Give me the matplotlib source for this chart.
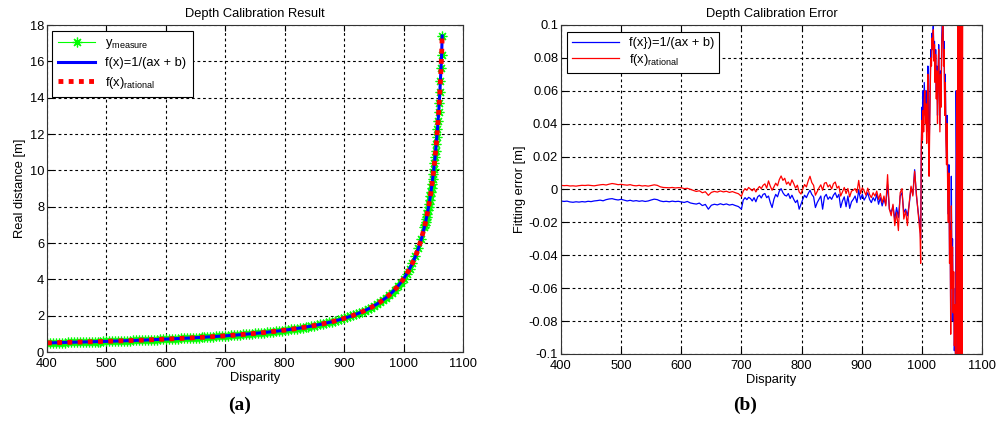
import numpy as np
import matplotlib
matplotlib.use("Agg")
import matplotlib.pyplot as plt

plt.rcParams['font.family'] = ['Liberation Sans', 'DejaVu Sans']
plt.rcParams['mathtext.fontset'] = 'custom'
plt.rcParams['mathtext.rm'] = 'Liberation Sans'
plt.rcParams['axes.unicode_minus'] = False

# ---------------- (a) Depth Calibration Result ----------------
disp_a = list(range(400, 1036, 5)) + list(range(1036, 1066, 1))
y_measure = [
    0.500, 0.504, 0.507, 0.511, 0.515, 0.519, 0.523, 0.527, 0.531, 0.535,
    0.539, 0.544, 0.548, 0.552, 0.557, 0.562, 0.566, 0.571, 0.576, 0.581,
    0.586, 0.591, 0.596, 0.601, 0.606, 0.612, 0.617, 0.623, 0.629, 0.634,
    0.640, 0.646, 0.652, 0.659, 0.665, 0.672, 0.678, 0.685, 0.692, 0.699,
    0.706, 0.714, 0.721, 0.729, 0.737, 0.745, 0.753, 0.761, 0.770, 0.779,
    0.787, 0.797, 0.806, 0.816, 0.825, 0.835, 0.846, 0.856, 0.867, 0.878,
    0.890, 0.901, 0.913, 0.926, 0.938, 0.952, 0.965, 0.979, 0.993, 1.008,
    1.023, 1.038, 1.054, 1.070, 1.087, 1.105, 1.123, 1.142, 1.161, 1.181,
    1.202, 1.223, 1.246, 1.269, 1.293, 1.318, 1.343, 1.370, 1.398, 1.427,
    1.458, 1.489, 1.523, 1.557, 1.593, 1.631, 1.671, 1.713, 1.757, 1.803,
    1.852, 1.903, 1.958, 2.015, 2.076, 2.141, 2.210, 2.284, 2.363, 2.447,
    2.538, 2.636, 2.741, 2.856, 2.980, 3.115, 3.264, 3.427, 3.608, 3.808,
    4.032, 4.285, 4.570, 4.897, 5.274, 5.714, 6.234, 6.859,
    7.000, 7.145, 7.297, 7.456, 7.622, 7.796, 7.977, 8.167, 8.367, 8.576,
    8.797, 9.029, 9.273, 9.531, 9.804, 10.093, 10.399, 10.725, 11.072, 11.442,
    11.837, 12.261, 12.716, 13.207, 13.736, 14.310, 14.934, 15.615, 16.361, 17.400,
]
# the two fitted curves coincide with the measurements at this scale
y_fit_inverse = list(y_measure)
y_fit_rational = list(y_measure)

# ---------------- (b) Depth Calibration Error (mm) ----------------
disp_b = list(range(400, 701, 5)) + list(range(703, 998, 3)) + list(range(998, 1069, 1))
err_inverse_mm = [
    # 400 .. 700 step 5
    -7.0, -7.3, -7.1, -7.6, -7.8, -7.5, -7.7, -7.4, -7.6, -7.2,
    -7.4, -7.0, -6.8, -6.5, -6.9, -6.2, -5.8, -5.6, -6.1, -6.4,
    -6.0, -6.5, -7.0, -6.6, -7.1, -6.8, -7.2, -6.9, -7.3, -7.0,
    -6.4, -5.9, -6.2, -7.0, -7.4, -7.2, -7.5, -7.1, -7.4, -7.2,
    -7.6, -7.9, -7.3, -8.2, -8.6, -8.9, -8.3, -9.8, -9.1, -12.0,
    -9.6, -9.0, -9.4, -8.7, -9.3, -8.8, -9.5, -9.1, -9.8, -10.4,
    -12.0,
    # 703 .. 997 step 3
    -6.5, -5.0, -6.2, -4.8, -5.5, -7.0, -5.0, -7.5, -4.5, -3.5,
    -5.2, -3.0, -2.5, -5.0, -4.0, -8.0, -11.0, -6.0, -3.0, -4.5,
    -1.0, 0.5, -2.0, -3.5, -4.0, -2.5, -5.5, -3.5, -6.0, -8.0,
    -6.5, -12.0, -9.0, -6.0, -3.5, -5.0, -2.5, -0.5, -3.0, -4.5,
    -11.0, -8.0, -6.0, -4.0, -12.0, -4.5, -3.0, -6.0, -4.5, -6.0,
    -3.5, -2.0, -5.0, -3.0, -11.0, -7.0, -4.5, -10.5, -4.0, -11.5,
    -7.5, -6.0, -4.0, -8.0, -0.5, -6.0, -3.0, -6.5, -4.5, -2.0,
    -6.0, -8.0, -5.0, -7.0, -3.0, -9.0, -5.0, -10.0, -6.0, -9.0,
    3.0, -12.0, -14.0, -10.0, -18.0, -11.0, -17.0, -4.0, -2.0, -14.0,
    -12.0, -16.0, -9.0, 1.0, -3.0, 12.0, -4.0, -14.0, -22.0,
    # 998 .. 1068 step 1
    -30, 20,
    50, 35, 60, 45, 65, 55, 45, 60, 35, 50,
    75, 40, 20, 45, 70, 85, 80, 95, 88, 100,
    82, 90, 70, 85, 60, 75, 45, 70, 88, 65,
    40, 72, 55, 92, 105, 115, 80, 90, 50, 70,
    35, 20, 45, 0, -15, 15, -40, -20, -80, 8,
    -55, -30, -80, -60, -98, -85, -100, 60, 10, -120,
    120, -130, 130, -120, 110, -110, 100, 80, 80,
]
err_rational_mm = [
    # 400 .. 700 step 5
    2.5, 2.3, 2.4, 2.1, 2.2, 2.0, 2.3, 2.5, 2.4, 2.6,
    2.4, 2.2, 2.5, 2.8, 3.0, 2.7, 3.2, 3.6, 3.3, 2.9,
    3.1, 2.8, 2.6, 2.9, 2.4, 2.2, 2.5, 2.1, 2.3, 2.0,
    2.4, 2.8, 2.5, 1.6, 1.2, 1.1, 1.0, 1.2, 0.9, 1.1,
    1.0, 0.5, 0.7, 0.1, -0.6, -1.2, -0.8, -2.0, -1.4, -3.6,
    -1.8, -1.2, -1.6, -0.9, -1.5, -1.1, -1.8, -1.3, -2.0, -2.6,
    -4.2,
    # 703 .. 997 step 3
    -1.0, 0.5, -0.5, 1.2, 0.2, -0.8, 0.6, -1.5, 0.4, 1.8,
    0.5, 2.5, 3.4, 0.8, 5.2, 2.0, -0.5, 1.5, 3.8, 2.2,
    6.0, 8.2, 5.5, 6.8, 3.2, 4.5, 2.4, 5.8, 3.5, 0.8,
    2.6, -1.5, -2.8, 0.4, 3.0, 1.5, 5.2, 8.0, 4.2, 2.5,
    -3.5, -1.2, 1.0, 2.8, -0.5, 3.8, 4.2, 1.5, 2.8, 0.3,
    3.5, 4.5, 0.8, 2.0, -4.0, -1.5, 1.2, -2.5, 0.6, -4.5,
    -1.0, -0.5, 0.5, -2.0, 5.5, -2.5, 1.0, -0.8, -3.5, 0.8,
    -3.0, -5.0, -2.0, -4.0, -1.0, -6.0, -2.5, -8.0, -4.0, -10.0,
    9.0, -12.0, -16.0, -9.0, -22.0, -14.0, -25.0, -2.0, 0.5, -18.0,
    -13.0, -22.0, -8.0, 2.0, -4.0, 11.0, -3.0, -15.0, -27.0,
    # 998 .. 1068 step 1
    -45, 25,
    42, 30, 48, 35, 55, 60, 40, 52, 28, 45,
    70, 30, 8, 35, 62, 80, 75, 92, 85, 97,
    78, 88, 65, 82, 55, 72, 40, 68, 85, 60,
    35, 70, 50, 88, 95, 110, 75, 85, 45, 65,
    30, 15, 40, -5, -20, 10, -45, -25, -88, -10,
    -60, -35, -75, -50, -95, -70, -105, -40, 60, -150,
    150, -150, 150, -150, 150, -150, 150, -150, 150,
]

ylabels_b = ['-0.1', '-0.08', '-0.06', '-0.04', '-0.02', '0', '0.02', '0.04', '0.06', '0.08', '0.1']

fig = plt.figure(figsize=(10, 4.37), dpi=100)
ax1 = fig.add_axes([0.047, 0.1945, 0.416, 0.748])
ax2 = fig.add_axes([0.561, 0.190, 0.421, 0.753])

fs = 9.3
grid_kw = dict(color='k', linestyle=(0, (2.5, 2.5)), linewidth=0.8)

# (a)
ax1.plot(disp_a, y_measure, color=(0, 1, 0), linewidth=0.8, marker=(8, 2, 0),
         markersize=7, markeredgewidth=0.9, label=r'y$_{\mathrm{measure}}$')
ax1.plot(disp_a, y_fit_inverse, color=(0, 0, 1), linewidth=2.2, label='f(x)=1/(ax + b)')
ax1.plot(disp_a, y_fit_rational, color=(1, 0, 0), linewidth=3.5, linestyle=(0, (1, 1.1)),
         label=r'f(x)$_{\mathrm{rational}}$')
ax1.set_xlim(400, 1100)
ax1.set_ylim(0, 18)
ax1.set_xticks(range(400, 1101, 100))
ax1.set_yticks(range(0, 19, 2))
ax1.set_title('Depth Calibration Result', fontsize=fs, pad=6)
ax1.set_xlabel('Disparity', fontsize=fs, labelpad=2)
ax1.set_ylabel('Real distance [m]', fontsize=fs, labelpad=3)
leg1 = ax1.legend(loc='upper left', bbox_to_anchor=(0.012, 0.983), borderaxespad=0,
                  fancybox=False, edgecolor='k', framealpha=1, fontsize=fs,
                  handlelength=2.8, labelspacing=0.45, borderpad=0.5)
leg1.get_frame().set_linewidth(0.8)

# (b)
ax2.plot(disp_b, np.array(err_inverse_mm) / 1000.0, color=(0, 0, 1), linewidth=0.9,
         label='f(x})=1/(ax + b)')
ax2.plot(disp_b, np.array(err_rational_mm) / 1000.0, color=(1, 0, 0), linewidth=0.9,
         label=r'f(x)$_{\mathrm{rational}}$')
ax2.set_xlim(400, 1100)
ax2.set_ylim(-0.1, 0.1)
ax2.set_xticks(range(400, 1101, 100))
ax2.set_yticks([float(s) for s in ylabels_b])
ax2.set_yticklabels(ylabels_b)
ax2.set_title('Depth Calibration Error', fontsize=fs, pad=6)
ax2.set_xlabel('Disparity', fontsize=fs, labelpad=2)
ax2.set_ylabel('Fitting error [m]', fontsize=fs, labelpad=2)
leg2 = ax2.legend(loc='upper left', bbox_to_anchor=(0.014, 0.979), borderaxespad=0,
                  fancybox=False, edgecolor='k', framealpha=1, fontsize=fs,
                  handlelength=3.6, labelspacing=0.2, borderpad=0.4)
leg2.get_frame().set_linewidth(0.8)

for ax in (ax1, ax2):
    ax.grid(True, **grid_kw)
    ax.set_axisbelow(True)
    ax.tick_params(direction='in', top=True, right=True, labelsize=fs, length=4, width=0.8)
    ax.tick_params(axis='x', pad=4)
    ax.tick_params(axis='y', pad=2)
    for sp in ax.spines.values():
        sp.set_linewidth(0.8)
        sp.set_color('#333333')

fig.text(0.240, 0.073, '(a)', ha='center', va='center', fontsize=14, fontweight='bold',
         family=['Liberation Serif', 'DejaVu Serif'])
fig.text(0.745, 0.073, '(b)', ha='center', va='center', fontsize=14, fontweight='bold',
         family=['Liberation Serif', 'DejaVu Serif'])

fig.savefig('out.png', dpi=100)
